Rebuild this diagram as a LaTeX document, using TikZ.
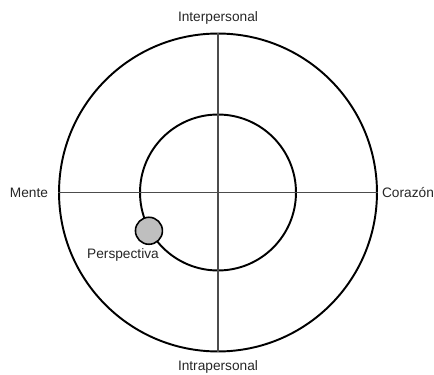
\documentclass[tikz,border=0pt]{standalone}
\usepackage{fontspec}
\setmainfont{Liberation Sans}
\begin{document}
\begin{tikzpicture}[x=0.02cm, y=-0.02cm, every node/.style={font=\fontsize{7.8}{9}\selectfont, text=black!85}]
    \useasboundingbox (0,0) rectangle (434,375);

    % Circulos
    \node[circle, draw, line width=1.1pt, inner sep=0, minimum size=6.36cm] (outer) at (218,192.5) {};
    \node[circle, draw, line width=1.1pt, inner sep=0, minimum size=3.12cm] (inner) at (218,192.5) {};

    % Ejes
    \draw[black!70, line width=0.6pt] (outer.north) -- (outer.south);
    \draw[black!70, line width=0.6pt] (outer.west) -- (outer.east);

    % Perspectiva
    \node[circle, draw, line width=0.9pt, fill=black!25, inner sep=0, minimum size=0.54cm] (persp) at (inner.209) {};

    \node (inter) at (218,18) {Interpersonal};
    \node (intra) at (218,367) {Intrapersonal};
    \node (mente) at (29,192.5) {Mente};
    \node (corazon) at (408,192.5) {Corazón};
    \node (lbl) at (123,255) {Perspectiva};
\end{tikzpicture}
\end{document}
